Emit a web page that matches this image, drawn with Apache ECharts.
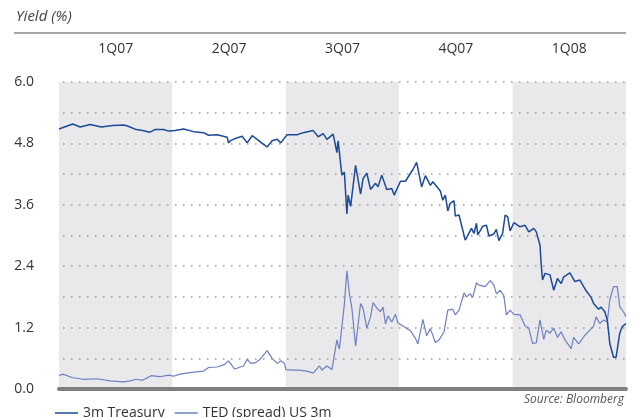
<!DOCTYPE html>
<html>
<head>
<meta charset="utf-8">
<script src="https://cdn.jsdelivr.net/npm/echarts@6/dist/echarts.min.js"></script>
<style>
html,body{margin:0;padding:0;background:#fff;}
#chart{width:635px;height:417px;}
</style>
</head>
<body>
<div id="chart"></div>
<script>
// Quarter labels (top axis)
const quarters = ['1Q07', '2Q07', '3Q07', '4Q07', '1Q08'];
// Days since 1 Jan 2007, and 3m Treasury yield (%)
const treasuryDays = [0, 11, 17, 25, 34, 43, 52, 55, 62, 67, 73, 77, 84, 88, 93, 100, 108, 116, 120, 127, 135, 136, 138, 142, 147, 151, 155, 159, 163, 167, 171, 175, 178, 183, 191, 196, 204, 208, 212, 215, 220, 223, 224, 227, 229, 231, 232, 234, 238, 242, 244, 247, 250, 254, 256, 259, 263, 267, 269, 274, 278, 284, 287, 291, 294, 298, 300, 306, 308, 310, 312, 314, 317, 318, 321, 326, 327, 331, 333, 335, 336, 340, 343, 345, 349, 351, 353, 356, 358, 360, 362, 365, 370, 374, 377, 381, 383, 386, 387, 388, 390, 394, 397, 400, 403, 405, 410, 414, 418, 423, 427, 429, 433, 435, 438, 440, 442, 445, 447, 450, 452, 455];
const treasuryYield = [5.08, 5.18, 5.12, 5.17, 5.12, 5.15, 5.16, 5.14, 5.07, 5.05, 5.02, 5.07, 5.07, 5.04, 5.05, 5.08, 5.03, 5.01, 4.96, 4.97, 4.92, 4.81, 4.86, 4.90, 4.94, 4.81, 4.95, 4.88, 4.80, 4.73, 4.85, 4.88, 4.81, 4.97, 4.97, 5.01, 5.05, 4.93, 4.99, 4.88, 4.98, 4.62, 4.85, 4.18, 4.24, 3.42, 3.79, 3.57, 4.37, 3.81, 4.11, 4.22, 3.90, 4.02, 3.95, 4.18, 3.90, 3.92, 3.79, 4.06, 4.06, 4.29, 4.43, 3.95, 4.17, 3.98, 4.05, 3.87, 3.69, 3.79, 3.48, 3.63, 3.68, 3.38, 3.40, 2.91, 2.91, 3.14, 3.04, 3.24, 3.01, 3.18, 3.20, 2.99, 3.03, 3.12, 2.90, 3.04, 3.40, 3.37, 3.09, 3.25, 3.17, 3.20, 3.07, 3.14, 3.07, 2.81, 2.42, 2.13, 2.26, 2.23, 1.93, 2.16, 2.06, 2.19, 2.27, 2.10, 2.13, 1.92, 1.79, 1.67, 1.56, 1.60, 1.51, 1.35, 0.89, 0.62, 0.62, 1.09, 1.22, 1.28];
// Days since 1 Jan 2007, and TED spread US 3m (%)
const tedDays = [0, 3, 11, 20, 30, 41, 52, 57, 62, 67, 74, 81, 88, 92, 97, 108, 116, 120, 127, 133, 136, 141, 148, 151, 154, 157, 161, 167, 171, 175, 178, 181, 182, 188, 192, 199, 204, 209, 211, 215, 219, 223, 225, 229, 230, 231, 233, 235, 238, 242, 244, 247, 250, 252, 255, 258, 260, 262, 264, 267, 270, 272, 276, 282, 286, 288, 292, 295, 298, 302, 305, 309, 312, 316, 318, 321, 325, 327, 330, 332, 335, 337, 342, 346, 349, 351, 354, 357, 359, 362, 365, 370, 374, 377, 380, 383, 386, 389, 391, 394, 397, 400, 403, 406, 411, 413, 417, 422, 426, 429, 431, 434, 437, 440, 442, 445, 448, 450, 453, 455];
const tedSpread = [0.26, 0.29, 0.22, 0.19, 0.20, 0.16, 0.14, 0.16, 0.19, 0.17, 0.26, 0.24, 0.27, 0.25, 0.29, 0.33, 0.35, 0.42, 0.43, 0.48, 0.55, 0.39, 0.45, 0.58, 0.50, 0.51, 0.57, 0.75, 0.60, 0.50, 0.55, 0.50, 0.38, 0.37, 0.37, 0.35, 0.31, 0.45, 0.37, 0.45, 0.38, 0.96, 0.78, 1.66, 1.69, 2.31, 1.87, 1.58, 0.84, 1.67, 1.58, 1.19, 1.41, 1.69, 1.58, 1.51, 1.60, 1.27, 1.43, 1.31, 1.46, 1.29, 1.23, 1.14, 0.99, 0.88, 1.36, 1.04, 1.18, 0.91, 0.96, 1.12, 1.54, 1.56, 1.45, 1.54, 1.88, 1.80, 1.86, 1.79, 2.08, 2.03, 2.00, 2.12, 2.03, 1.86, 1.93, 1.82, 1.45, 1.54, 1.46, 1.45, 1.23, 1.19, 0.89, 0.90, 1.35, 0.97, 1.15, 1.09, 1.19, 1.01, 1.12, 0.96, 0.79, 1.01, 0.88, 1.05, 1.15, 1.23, 1.41, 1.28, 1.35, 1.31, 1.74, 2.00, 2.00, 1.61, 1.51, 1.41];
const seriesNames = ['3m Treasury', 'TED (spread) US 3m'];

const treasuryData = treasuryDays.map((d, i) => [d, treasuryYield[i]]);
const tedData = tedDays.map((d, i) => [d, tedSpread[i]]);

const FONT = 'Open Sans';
const chart = echarts.init(document.getElementById('chart'), null, { renderer: 'canvas' });
chart.setOption({
  animation: false,
  backgroundColor: '#ffffff',
  textStyle: { fontFamily: FONT },
  title: {
    text: 'Yield (%)', left: 11, top: 4,
    textStyle: { fontFamily: FONT, fontStyle: 'italic', fontWeight: 'normal', fontSize: 15, color: '#444' }
  },
  grid: { left: 59, right: 9, top: 82, bottom: 28, containLabel: false },
  legend: {
    data: seriesNames,
    left: 55, top: 403, padding: 0,
    icon: 'rect',
    itemWidth: 23, itemHeight: 1.5, itemGap: 10,
    textStyle: { fontFamily: FONT, fontSize: 14, color: '#333', lineHeight: 20 }
  },
  xAxis: [
    {
      type: 'value', min: 0, max: 455, z: 3,
      axisLine: { show: true, lineStyle: { color: '#7f7f7f', width: 4 } },
      axisTick: { show: false }, axisLabel: { show: false }, splitLine: { show: false }
    },
    {
      type: 'category', position: 'top', data: quarters, boundaryGap: true, z: 0,
      axisLine: { show: false }, axisTick: { show: false },
      axisLabel: { margin: 26, fontFamily: FONT, fontSize: 14, color: '#333' },
      splitLine: { show: false },
      splitArea: { show: true, areaStyle: { color: ['#e9e9ec', '#ffffff'] } }
    }
  ],
  yAxis: {
    type: 'value', min: 0, max: 6, interval: 0.6, z: 1,
    axisLine: { show: false }, axisTick: { show: false },
    axisLabel: {
      margin: 25, fontFamily: FONT, fontSize: 14, color: '#333',
      formatter: v => (Math.round(v * 10) % 12 === 0 ? v.toFixed(1) : '')
    },
    splitLine: { show: true, lineStyle: { color: '#9a9a9a', width: 1.5, type: [1.5, 6.5], dashOffset: -4 } }
  },
  series: [
    {
      name: seriesNames[0], type: 'line', xAxisIndex: 0, data: treasuryData,
      symbol: 'none', z: 4,
      lineStyle: { color: '#1c4a96', width: 1.5 }, itemStyle: { color: '#1c4a96' }
    },
    {
      name: seriesNames[1], type: 'line', xAxisIndex: 0, data: tedData,
      symbol: 'none', z: 3,
      lineStyle: { color: '#6e7fc2', width: 1.2 }, itemStyle: { color: '#6e7fc2' }
    }
  ],
  graphic: [
    { type: 'line', shape: { x1: 14, y1: 33, x2: 626, y2: 33 }, style: { stroke: '#8a8a8a', lineWidth: 1.5 } },
    { type: 'text', right: 11, top: 394, style: { text: 'Source: Bloomberg', font: 'italic 12px "Open Sans"', fill: '#555' } }
  ]
});
</script>
</body>
</html>
